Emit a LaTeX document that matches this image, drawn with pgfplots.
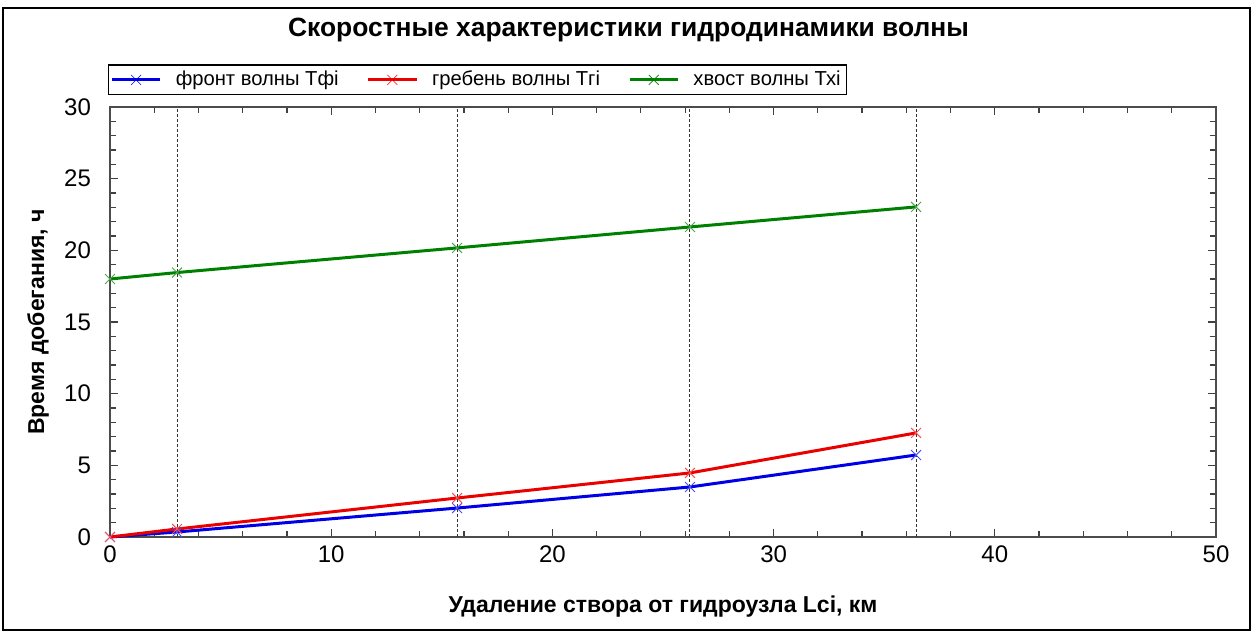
\documentclass[border=0pt]{standalone}
\usepackage{pgfplots}
\pgfplotsset{compat=1.18}
\usepackage{fontspec}
\setmainfont{Liberation Sans}
\definecolor{sgreen}{RGB}{0,128,0}
\definecolor{sblue}{RGB}{0,0,230}
\definecolor{sred}{RGB}{235,0,0}
\begin{document}
\begin{tikzpicture}
\useasboundingbox (-55pt,-47.5pt) rectangle (573.5pt,268.5pt);
\draw[black, line width=0.8pt] (-53.5pt,-46.5pt) rectangle (570pt,264.5pt);
\begin{axis}[
  at={(0,0)}, anchor=south west,
  scale only axis, width=553pt, height=215pt,
  xmin=0, xmax=50, ymin=0, ymax=30,
  xtick={0,10,...,50}, ytick={0,5,...,30},
  minor x tick num=4, minor y tick num=4,
  tick align=inside,
  major tick length=4pt, minor tick length=3pt,
  axis line style={black!70, line width=0.7pt},
  every tick/.style={black!75, line width=0.6pt},
  /pgf/number format/assume math mode=true,
  tick label style={font=\fontsize{12}{14}\selectfont},
  xticklabel style={yshift=-1pt},
  yticklabel style={xshift=-6pt},
  xlabel={\textbf{Удаление створа от гидроузла Lci, км}},
  ylabel={\textbf{Время добегания, ч}},
  label style={font=\fontsize{11.5}{13}\selectfont},
  xlabel style={at={(0.5,0)}, yshift=-26pt},
  ylabel style={at={(0,0.5)}, yshift=27pt},
  title={\textbf{Скоростные характеристики гидродинамики волны}},
  title style={at={(0.4688,1.151)}, anchor=center, font=\fontsize{13.2}{15}\selectfont},
  legend columns=3,
  legend style={at={(-0.002,1.027)}, anchor=south west, draw=black, line width=0.6pt,
    font=\fontsize{10.1}{12}\selectfont, inner sep=1pt,
    /tikz/every odd column/.append style={column sep=5pt},
    /tikz/every even column/.append style={column sep=12pt}},
  legend image post style={line width=1.5pt},
  legend image code/.code={\draw[#1] (0cm,0cm) -- (0.85cm,0cm); \draw[#1, line width=0.3pt, mark size=3.5pt, mark options={solid}] plot coordinates {(0.425cm,0cm)};},
  clip=false,
]
\addplot[sblue, line width=1.5pt, mark=x, mark size=3.5pt, mark options={line width=0.5pt, blue!70}] coordinates {(0,0) (3.03,0.35) (15.69,2.02) (26.22,3.49) (36.44,5.72)};
\addlegendentry{фронт волны Тфі}
\addplot[sred, line width=1.5pt, mark=x, mark size=3.5pt, mark options={line width=0.5pt, red!70}] coordinates {(0,0) (3.03,0.56) (15.69,2.72) (26.22,4.47) (36.44,7.26)};
\addlegendentry{гребень волны Тгі}
\addplot[sgreen, line width=1.5pt, mark=x, mark size=3.5pt, mark options={line width=0.5pt, sgreen!70}] coordinates {(0,18.0) (3.03,18.45) (15.69,20.17) (26.22,21.63) (36.44,23.03)};
\addlegendentry{хвост волны Тхі}
\addplot[black!80, dash pattern=on 1.5pt off 1pt, line width=0.5pt, forget plot] coordinates {(3.03,0) (3.03,30)};
\addplot[black!80, dash pattern=on 1.5pt off 1pt, line width=0.5pt, forget plot] coordinates {(15.69,0) (15.69,30)};
\addplot[black!80, dash pattern=on 1.5pt off 1pt, line width=0.5pt, forget plot] coordinates {(26.22,0) (26.22,30)};
\addplot[black!80, dash pattern=on 1.5pt off 1pt, line width=0.5pt, forget plot] coordinates {(36.44,0) (36.44,30)};
\end{axis}
\end{tikzpicture}
\end{document}
